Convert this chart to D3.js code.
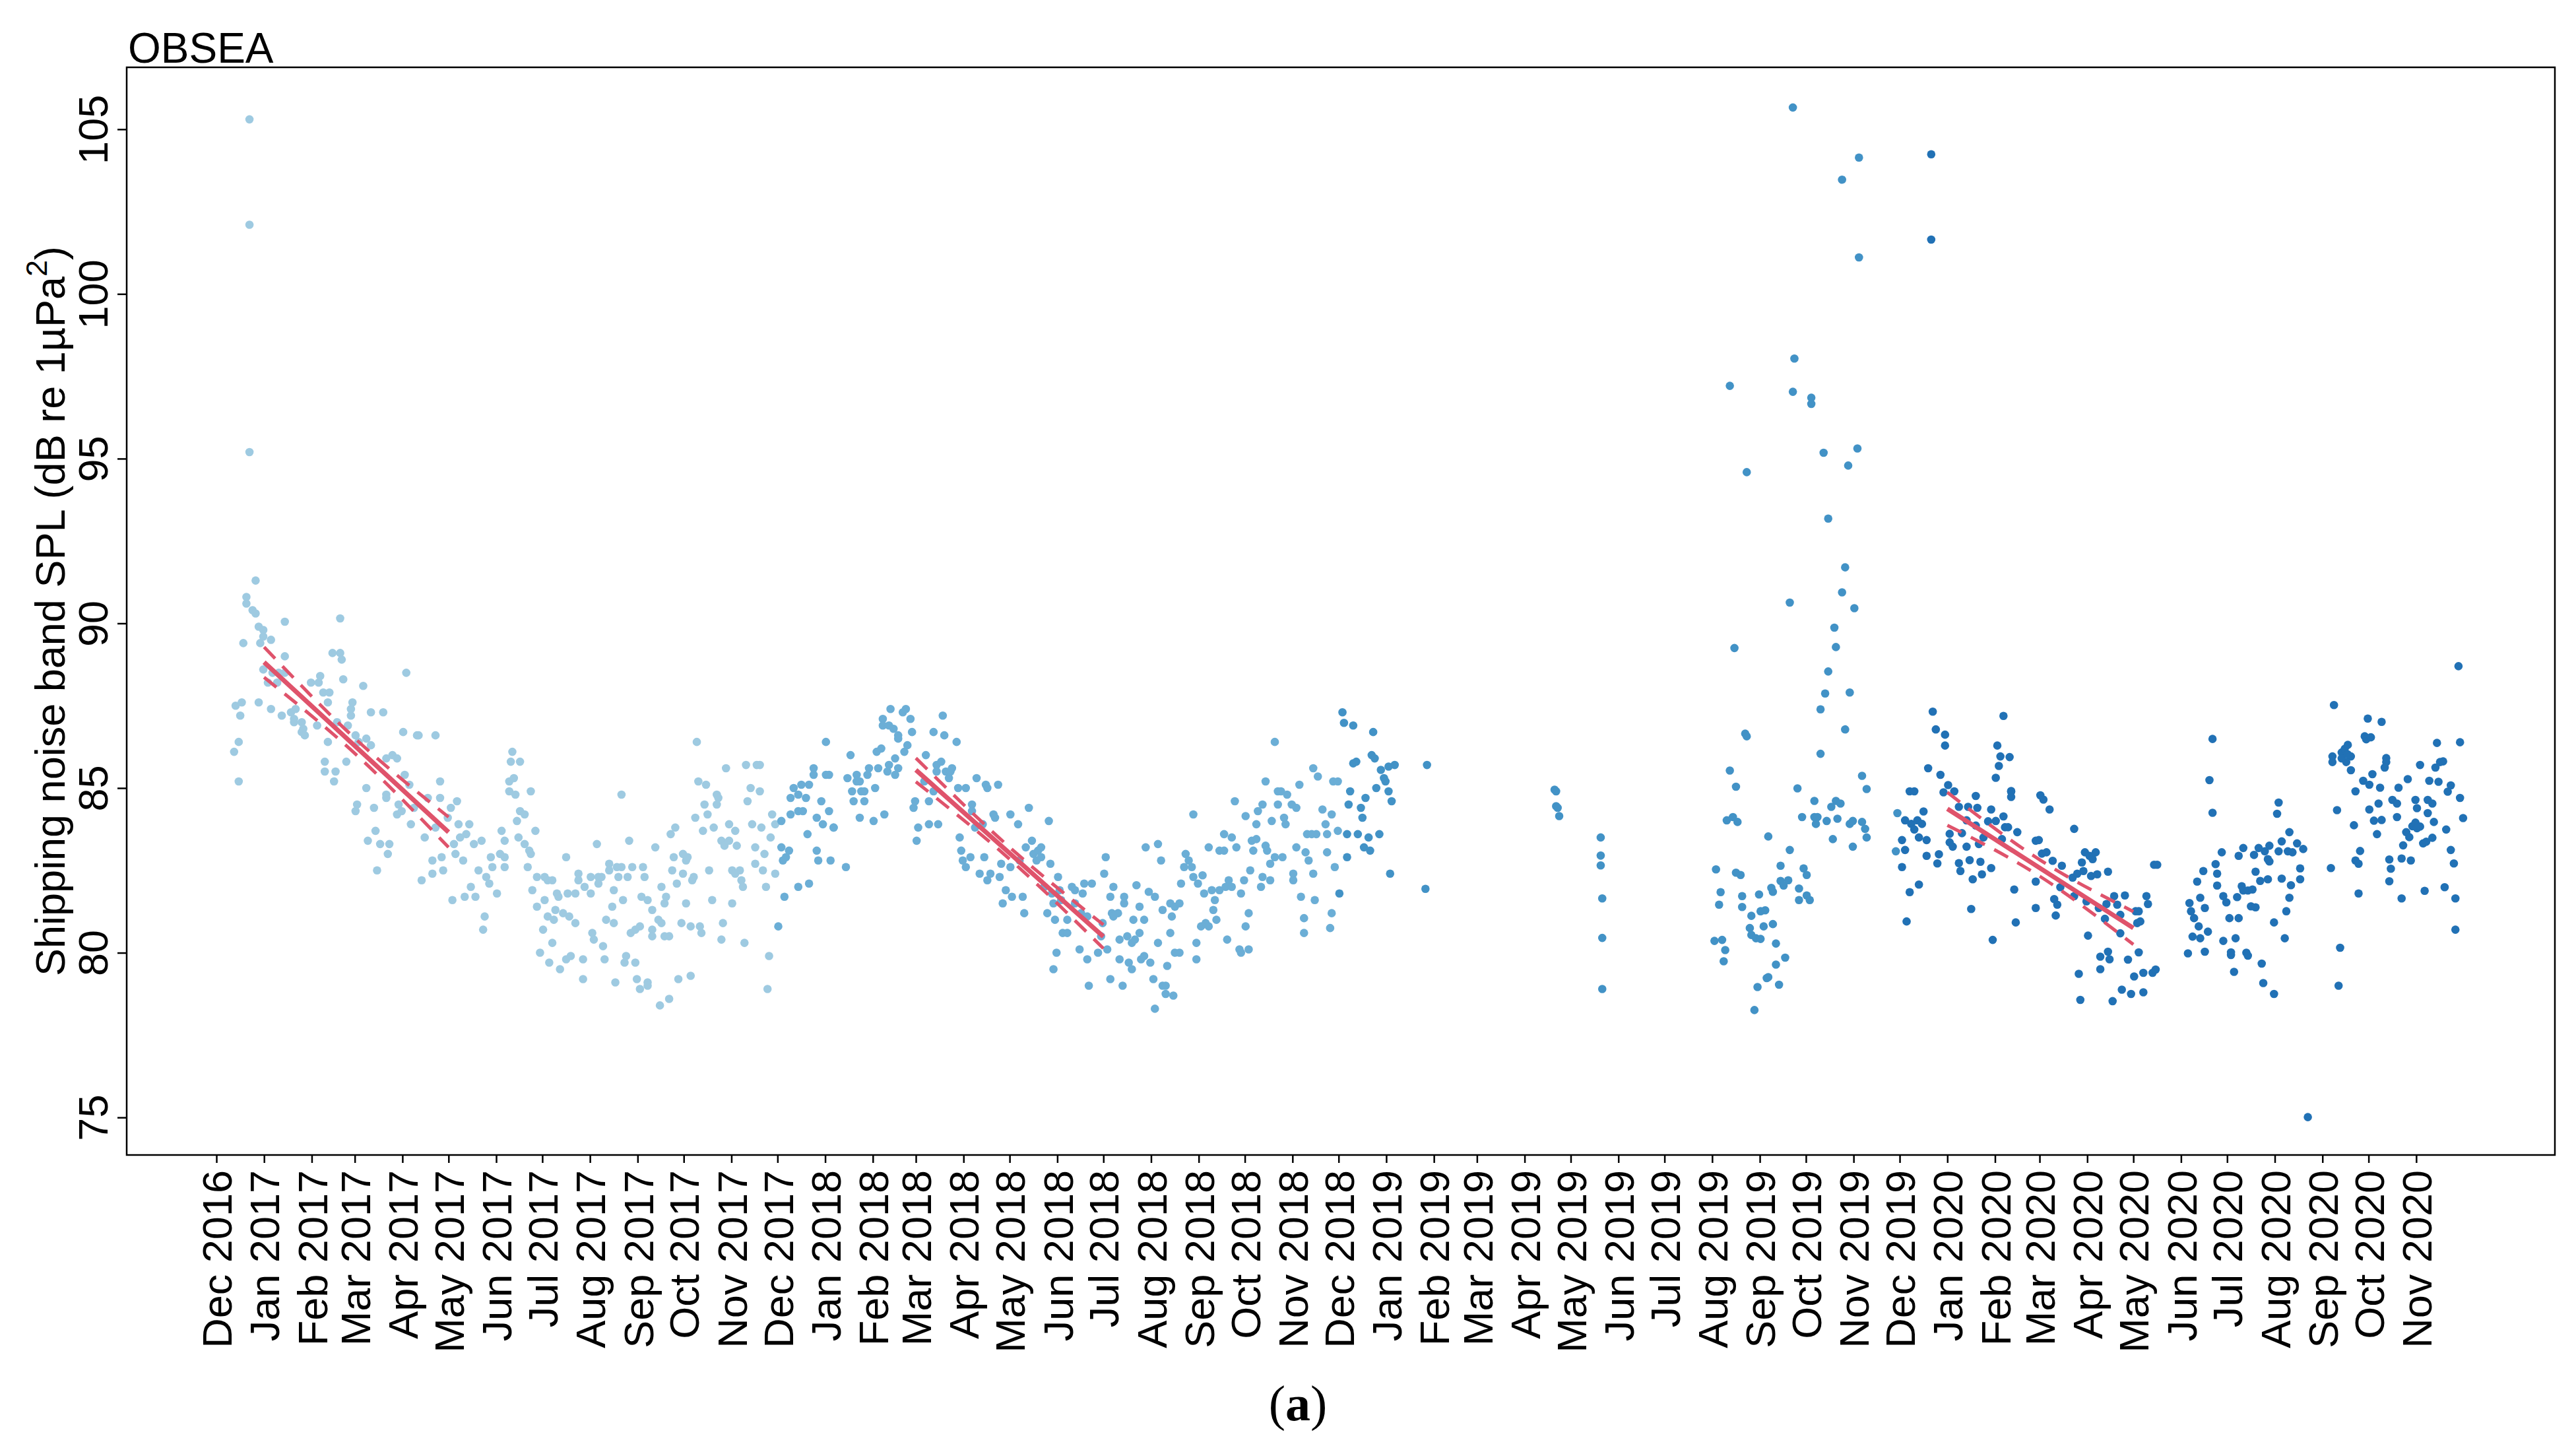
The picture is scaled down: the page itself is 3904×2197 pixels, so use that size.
<!DOCTYPE html>
<html>
<head>
<meta charset="utf-8">
<script src="https://cdn.jsdelivr.net/npm/d3@7"></script>
<style>
    body { margin: 0; background: #fff; }
    text { font-family: "Liberation Sans", Arial, sans-serif; fill: #000; }
</style>
</head>
<body>
<div id="chart"></div>
<script>
// each season runs Dec-Nov; points are [day since season start, SPL dB]
const seasonStarts = ["2016-12-01", "2017-12-01", "2018-12-01", "2019-12-01"]
const seasonColors = ["#9ecae1", "#6baed6", "#4292c6", "#2171b5"]

const spl2017 = [
    [11,86.1],[12,87.5],[14,86.4],[14,85.2],[15,87.2],[16,87.6],[17,89.4],[19,90.8],[19,90.6],[21,105.3],[21,102.1],[21,95.2],
    [23,90.4],[25,90.3],[25,91.3],[27,89.9],[27,87.6],[28,89.4],[30,89.6],[30,89.8],[30,88.6],[33,88.2],[35,87.4],[35,89.5],
    [36,88.5],[39,88.2],[40,88.5],[42,87.2],[44,88.5],[44,90.05],[44,89.0],[48,87.3],[50,87.0],[50,87.1],[51,87.4],[55,86.7],
    [55,87.0],[56,86.8],[57,86.6],[61,88.2],[65,86.9],[66,88.2],[67,88.4],[69,87.9],[70,85.5],[70,85.8],[72,87.6],[72,86.4],
    [73,87.9],[75,89.1],[76,85.2],[77,85.5],[78,87.0],[80,89.1],[80,90.15],[81,88.9],[82,88.3],[84,85.8],[85,86.9],[87,87.4],
    [87,87.2],[88,87.6],[90,86.6],[90,84.3],[91,84.5],[92,86.4],[95,88.1],[97,86.5],[97,85.0],[98,83.4],[100,86.3],[100,87.3],
    [102,84.4],[103,83.7],[104,82.5],[106,83.3],[108,87.3],[110,85.9],[110,84.7],[110,84.8],[111,83.0],[112,83.3],[114,86.0],
    [117,84.2],[117,85.9],[118,84.5],[120,84.3],[121,86.7],[122,85.4],[123,88.5],[125,85.1],[126,83.9],[128,84.4],[130,86.6],
    [131,86.6],[133,82.2],[135,83.5],[137,84.7],[140,82.8],[140,82.4],[142,83.8],[142,86.6],[145,84.7],[145,85.2],[146,82.9],
    [147,82.5],[150,84.1],[152,84.4],[153,81.6],[154,83.3],[155,83.0],[156,84.6],[157,83.9],[158,83.5],[160,82.8],[161,81.7],
    [162,83.6],[164,83.9],[165,82.0],[167,83.3],[168,81.7],[170,82.5],[172,83.4],[173,80.7],[174,81.1],[175,82.3],[177,82.1],
    [178,82.9],[179,82.6],[182,81.8],[184,83.0],[185,83.7],[187,82.9],[187,82.6],[187,83.4],[190,85.2],[190,84.9],[191,85.8],
    [192,86.1],[193,85.3],[194,84.8],[195,84.0],[196,83.5],[197,85.8],[197,84.3],
    [200,84.2],[200,83.3],[202,82.6],[203,83.1],[204,84.9],[204,83.0],[205,81.9],[207,83.7],[208,82.3],[208,81.4],[210,80.0],
    [212,80.7],[213,82.3],[213,81.6],[215,82.2],[215,81.1],[216,79.7],[218,80.3],[218,82.2],[219,81.0],[220,81.3],[221,81.8],
    [222,81.7],[223,79.5],[225,81.2],[227,79.8],[227,82.9],[228,81.8],[229,81.1],[230,79.9],[233,81.8],[233,80.9],[235,82.2],
    [235,82.4],[238,79.8],[238,79.2],[239,82.0],[243,81.8],[243,82.3],[244,80.6],[245,80.4],[247,83.3],[248,82.3],[248,82.1],
    [250,82.3],[251,80.2],[252,79.8],[253,81.0],[255,82.7],[255,82.5],[257,81.4],[258,81.9],[258,80.9],[259,79.1],[260,82.6],
    [261,82.3],[263,82.6],[263,84.8],[264,81.6],[265,79.7],[266,79.9],[267,82.3],[268,83.4],[269,80.6],[270,82.6],[272,80.7],
    [272,79.7],[273,79.2],[275,80.8],[275,78.9],[276,81.7],[277,82.6],[278,82.3],[280,79.1],[280,79.0],[280,81.6],[283,81.3],
    [283,80.7],[283,80.5],[285,83.2],[287,81.0],[288,78.4],[289,80.9],[289,82.0],[291,81.5],[291,80.5],[292,81.7],[294,80.5],
    [294,78.6],[295,83.6],[296,82.5],[297,82.9],[298,83.8],[299,82.1],[300,79.2],[302,80.9],[303,83.0],[303,82.4],[305,81.5],
    [305,82.8],[306,82.9],[308,80.8],[308,79.3],[309,82.2],[310,82.3],[311,84.1],[312,86.4],[313,85.2],[314,80.8],[315,80.6],
    [316,83.7],[317,84.5],[318,85.1],[319,84.2],[320,82.5],[322,81.6],[323,83.8],[325,84.8],[325,84.5],[326,84.7],[328,83.4],
    [328,80.4],[329,80.9],[330,83.25],[331,85.6],[333,83.9],[333,83.4],[335,82.5],[335,81.5],[337,83.7],[337,82.4],[338,83.25],
    [340,82.5],[341,82.2],[342,82.0],[343,80.3],[344,85.7],[345,84.6],[347,85.0],[348,83.9],[350,82.7],[350,83.2],[351,85.7],
    [353,85.7],[353,84.9],[354,83.8],[355,82.5],[356,83.0],[357,82.0],[358,78.9],[359,79.9],[360,83.5],[361,84.2],[363,83.9],
    [363,82.4]
]

const spl2018 = [
    [0,80.8],[2,84.0],[2,83.2],[3,82.8],[4,81.7],[5,82.9],[7,83.1],[8,84.7],[8,84.2],[10,85.0],[13,84.8],[13,84.3],[13,82.0],
    [15,85.1],[16,84.3],[18,84.7],[19,83.6],[20,82.1],[20,85.1],[23,85.6],[23,85.4],[25,84.1],[25,83.1],[26,82.8],[28,84.6],
    [29,83.9],[31,86.4],[31,85.4],[33,85.4],[33,84.3],[34,82.8],[36,83.8],[36,83.8],[44,82.6],[45,85.3],[47,86.0],[48,84.9],
    [49,84.6],[51,85.4],[51,85.2],[53,85.2],[53,84.1],[54,84.9],[56,84.6],[56,84.9],[58,85.4],[59,85.6],[62,84.0],[63,85.0],
    [64,86.1],[65,85.6],[67,86.2],[68,87.1],[68,86.9],[69,84.2],[71,85.5],[72,85.7],[72,86.9],[73,87.4],[75,86.8],[76,85.9],
    [76,85.4],[78,86.6],[78,86.5],[78,85.6],[81,87.3],[82,86.1],[83,87.4],[84,86.3],[86,87.1],[87,86.7],[88,84.4],[89,84.6],
    [90,83.4],[91,83.8],[95,85.2],[96,86.0],[98,83.9],[98,84.6],[101,84.9],[101,86.7],[103,85.7],[103,85.5],[104,83.9],
    [106,85.8],[107,87.2],[108,86.6],[109,85.5],[111,85.3],[112,85.5],[113,85.6],[116,86.4],[117,85.0],[118,83.5],[119,83.1],
    [120,82.8],[122,85.0],[122,82.6],[125,82.9],[126,84.5],[126,84.3],[128,83.8],[129,85.3],[131,82.4],[133,83.9],[134,82.9],
    [135,85.1],[136,85.0],[136,82.2],[138,82.4],[140,84.2],[141,84.1],[143,85.1],[144,82.3],[145,82.7],[146,81.5],[148,81.9],
    [151,84.2],[151,82.6],[152,81.7],[156,83.9],[157,82.8],[159,81.7],[160,81.2],[161,83.2],[163,84.4],[165,83.4],[166,83.0],
    [168,82.8],[169,83.1],[171,82.9],[171,83.2],[173,82.0],[175,81.2],[176,84.0],[177,82.7],[178,81.8],[179,81.5],[179,79.5],
    [180,81.0],[181,80.0],[182,82.3],[183,81.9],[184,81.6],[185,80.6],[188,81.0],[188,80.6],[191,82.0],[193,81.9],[193,81.5],
    [196,80.1],[197,81.2],[198,81.8],[199,82.1],[201,81.1],[201,79.8],[202,79.0],[204,82.1],[208,80.0],[210,80.5],[211,80.9],
    [212,82.4],[213,82.9],[214,80.1],[216,79.2],[216,81.7],[217,81.2],[218,82.0],
    [218,81.1],[221,81.2],[222,80.4],[222,79.8],[224,79.0],[225,81.7],[225,81.5],[227,80.5],[228,79.7],[230,80.3],[230,79.5],
    [231,81.0],[232,80.4],[233,82.05],[235,81.4],[235,80.6],[236,79.8],[238,81.0],[238,79.9],[239,83.2],[241,81.85],[242,79.7],
    [244,79.2],[245,78.3],[245,81.7],[247,80.3],[247,83.3],[249,82.8],[250,81.3],[250,79.0],[252,78.75],[252,79.0],[253,79.6],
    [255,81.5],[255,80.6],[256,81.1],[257,78.7],[258,81.4],[258,80.0],[261,81.5],[261,80.0],[262,82.1],[264,82.6],[265,83.0],
    [267,82.8],[269,82.6],[270,84.2],[270,82.3],[272,79.8],[272,80.3],[273,82.1],[275,80.8],[276,82.35],[277,81.8],[278,80.9],
    [280,83.2],[280,80.8],[282,81.9],[283,81.3],[284,81.6],[285,81.0],[287,81.9],[287,83.1],[290,83.6],[290,83.1],[291,82.0],
    [292,80.4],[293,82.2],[295,83.5],[295,82.0],[297,84.6],[298,83.2],[300,80.1],[301,80.0],[301,81.8],[303,82.2],[304,84.15],
    [304,80.8],[306,81.2],[306,80.1],[307,82.5],[308,83.4],[309,83.1],[311,83.9],[311,83.45],[312,84.3],[314,82.0],[315,82.3],
    [315,84.5],[317,85.2],[317,83.25],[318,83.1],[320,82.7],[320,82.2],[321,84.0],[323,82.9],[323,86.4],[325,84.5],[325,84.9],
    [327,84.9],[328,82.9],[329,84.1],[330,83.9],[331,84.8],[334,84.5],[335,82.4],[335,82.2],[337,83.2],[337,84.4],[339,85.1],
    [340,81.7],[342,81.05],[342,80.6],[343,83.05],[344,83.6],[345,82.8],[347,83.6],[348,85.6],[348,82.4],[349,81.6],[350,83.6],
    [351,85.35],[354,84.35],[356,83.9],[357,83.6],[357,83.05],[359,80.75],[360,81.2],[360,84.2],[361,85.2],[362,82.6],[364,83.7],
    [364,85.2]
]

const spl2019 = [
    [0,81.8],[2,87.3],[3,86.98],[5,83.6],[5,82.9],[6,84.5],[7,84.9],[9,85.75],[9,86.9],[11,85.8],[12,83.6],[14,84.4],[15,84.1],
    [16,83.2],[17,84.7],[19,83.5],[20,83.1],[21,86.0],[22,86.7],[23,85.9],[24,85.0],[26,83.6],[27,85.55],[29,85.3],[30,85.2],
    [32,85.65],[32,84.9],[33,82.4],[34,84.6],[36,85.7],[56,81.94],[57,85.7],
    [140,84.95],[141,84.9],[141,84.45],[142,84.4],[143,84.15],[170,83.5],[170,82.95],[170,82.65],[171,81.65],[171,80.45],[171,78.9],
    [244,80.36],[245,82.53],[247,81.46],[248,81.84],[249,80.39],[250,79.74],[251,80.08],[252,84.02],[254,85.53],[254,97.21],
    [256,84.12],[257,89.25],[258,85.04],[258,82.43],[259,83.97],[261,82.36],[262,81.72],[262,81.39],[264,86.65],[265,94.59],
    [265,86.57],[267,80.75],[268,80.54],[268,81.12],[270,78.26],[271,80.44],[272,78.96],[273,81.77],[274,80.42],[274,81.26],
    [276,80.8],[277,81.29],[278,79.23],[279,79.26],[279,83.53],[281,81.97],[282,81.85],[282,80.87],[284,80.28],[284,79.64],
    [286,79.03],[287,82.64],[287,82.18],[289,82.04],[290,79.85],[292,82.2],[293,90.63],[293,83.12],[295,97.03],[295,105.66],
    [296,98.04],[298,84.99],[299,81.95],[299,81.6],[301,84.12],[302,82.56],[304,81.74],[304,82.36],[306,81.6],[307,96.85],
    [307,96.66],[309,84.61],[309,84.12],[310,83.91],[311,84.12],[313,87.39],[313,86.04],[315,95.18],[316,87.87],[317,84.0],
    [318,93.18],[318,88.54],[320,84.43],[321,83.45],[322,89.87],[323,89.28],[323,84.61],[324,84.07],[326,84.53],[327,103.47],
    [327,90.94],[329,91.7],[329,86.78],[331,94.79],[332,83.91],[332,87.9],[334,84.0],[334,83.22],[335,90.46],[337,95.31],
    [338,104.14],[338,101.11],[340,85.37],[340,83.97],[342,83.76],[343,83.5],[343,84.97],[362,83.08],[363,84.24]
]

const spl2020 = [
    [1,82.6],[1,83.42],[3,84.02],[3,83.12],[4,80.95],[6,81.84],[6,84.9],[7,83.91],[9,84.9],[9,83.74],[11,84.02],[12,82.07],
    [12,83.5],[14,83.91],[15,84.29],[17,82.94],[17,83.42],[18,85.6],[20,104.24],[20,101.65],[21,87.32],[23,86.78],[24,82.71],
    [25,82.99],[26,85.4],[28,84.87],[29,86.62],[29,86.29],[31,85.09],[32,83.61],[32,83.35],[34,83.22],[35,84.9],[38,84.43],
    [38,82.72],[39,82.48],[40,83.63],[43,84.02],[43,83.22],[44,84.43],[45,82.81],[46,81.33],[47,82.23],[49,83.86],[49,84.76],
    [50,84.4],[51,83.3],[52,82.76],[53,82.38],[54,83.5],[57,83.99],[59,84.35],[59,82.57],[60,80.39],[62,85.31],[62,84.0],
    [63,86.29],[64,85.67],[65,85.96],[66,83.45],[67,87.19],[67,84.14],[68,83.81],
    [70,83.81],[71,85.94],[72,84.89],[72,84.91],[72,84.73],[74,81.92],[75,80.92],[76,83.66],[88,83.4],[90,83.42],[91,84.78],
    [93,84.65],[97,84.35],[88,82.16],[88,81.36],[92,83.01],[95,83.05],[99,82.79],[105,82.64],[100,81.63],[102,81.46],[101,81.13],
    [112,82.28],[113,83.76],[104,81.99],[113,81.72],[115,82.4],[118,82.74],[119,82.48],[120,83.05],[123,82.94],[127,83.05],
    [125,82.84],[124,82.33],[128,82.38],[135,82.46],[121,81.56],[129,81.36],[133,81.03],[143,81.15],[139,81.72],[146,81.74],
    [141,81.46],[134,81.48],[122,80.52],[116,79.36],[117,78.57],[130,79.88],[135,80.03],[136,79.8],[130,79.5],[138,78.53],
    [143,80.59],[148,79.79],[144,78.88],[150,78.75],[152,79.28],[155,80.01],[154,80.9],[156,80.95],[153,81.26],[155,81.26],
    [160,81.72],[161,81.48],[158,79.39],[158,78.8],[164,79.39],[166,79.49],[165,82.67],[167,82.67],
    [188,81.51],[189,81.26],[191,81.05],[187,79.98],[190,80.49],[195,80.44],[194,80.8],[193,82.16],[197,82.48],[195,81.67],
    [198,81.36],[198,80.03],[200,80.64],[203,86.49],[201,85.24],[203,84.25],[205,82.69],[206,82.4],[209,83.05],[206,82.04],
    [210,80.36],[210,81.72],[212,81.53],[214,81.05],[220,81.05],[215,79.93],[215,80.01],[217,79.42],[218,80.44],[219,81.69],
    [220,82.94],[223,83.18],[222,82.02],[223,81.89],[226,81.89],[229,81.92],[228,81.41],[231,81.38],[225,80.0],[226,79.91],
    [230,82.97],[231,82.46],[233,83.18],[237,83.08],[240,83.25],[234,82.18],[239,82.23],[239,82.84],[240,82.77],[235,79.67],
    [236,79.08],[243,78.75],[243,80.92],[246,84.56],[245,84.22],[248,83.38],[246,83.08],[248,82.25],[251,81.26],[250,80.44],
    [253,83.66],[253,81.67],[254,82.05],[252,83.08],[255,83.05],[258,83.32],[262,83.15],[260,82.56],[260,82.23],
    [265,75.01],[280,82.57],[282,87.52],[284,84.33],[286,80.15],[285,79.0],[281,85.96],[281,85.79],[287,86.08],[289,86.19],
    [291,86.31],[293,85.96],[290,85.79],[293,85.54],[287,85.9],[291,86.02],[295,83.87],[296,84.9],[296,82.8],[298,82.7],
    [298,81.8],[299,83.09],[301,85.22],[305,85.1],[302,86.57],[303,86.48],[306,86.54],[304,87.11],[305,84.35],[307,85.42],
    [308,84.01],[313,84.03],[310,83.6],[311,84.53],[312,85.01],[313,87.01],[316,85.91],[316,85.79],[315,85.62],[318,82.83],
    [318,82.17],[319,82.55],[320,84.64],[323,84.53],[323,84.12],[324,85.01],[326,81.65],[326,82.86],[327,83.26],[329,83.66],
    [331,83.51],[330,85.27],[332,82.8],[333,83.84],[335,83.95],[336,83.78],[335,84.64],[336,84.39],[338,85.7],[338,83.83],
    [340,83.32],[342,83.37],[341,81.88],[343,84.24],[343,84.64],[346,84.53],[344,85.22],[350,85.19],[346,83.49],[347,83.97],
    [348,85.62],[351,85.79],[353,85.81],[349,86.37],[354,81.99],[355,83.74],[356,84.89],[358,85.08],[358,83.12],[360,82.71],
    [361,81.65],[361,80.7],[363,88.7],[364,86.39],[364,84.7],[366,84.09]
]

const seasons = [spl2017, spl2018, spl2019, spl2020]

// linear trends with their confidence band half widths (dB)
const trendStarts = ["2017-01-01", "2018-03-01", "2020-01-01"]
const trendEnds = ["2017-05-01", "2018-07-01", "2020-05-01"]
const trendFrom = [88.82, 85.55, 84.37]
const trendTo = [83.66, 80.49, 80.75]
const ciEnd = [0.46, 0.36, 0.5]
const ciMid = [0.23, 0.18, 0.25]

const yTicks = [75, 80, 85, 90, 95, 100, 105]
const firstTickMonth = "2016-12-01"
const lastTickMonth = "2020-11-01"
const xDomain = ["2016-10-03T15:00", "2021-01-30T05:00"]
const yDomain = [73.86, 106.88]

;(function () {
    const width = 3904, height = 2197
    const margin = {top: 102, right: 32, bottom: 447, left: 192}
    const parseDay = d3.utcParse("%Y-%m-%d")
    const parseHour = d3.utcParse("%Y-%m-%dT%H:%M")
    const red = "#df536b"

    const svg = d3.select("#chart")
        .append("svg")
        .attr("width", width)
        .attr("height", height)
    svg.append("rect").attr("width", width).attr("height", height).attr("fill", "#fff")

    const x = d3.scaleUtc()
        .domain(xDomain.map(parseHour))
        .range([margin.left, width - margin.right])
    const y = d3.scaleLinear()
        .domain(yDomain)
        .range([height - margin.bottom, margin.top])

    // y axis, labels turned like R's las=0
    svg.append("g")
        .attr("transform", "translate(" + margin.left + ",0)")
        .call(d3.axisLeft(y).tickValues(yTicks).tickSize(14).tickSizeOuter(0))
        .call(g => g.select(".domain").remove())
        .call(g => g.selectAll("line").attr("stroke", "#000").attr("stroke-width", 2.5))
        .call(g => g.selectAll("text")
            .attr("x", null).attr("dy", null)
            .attr("font-size", 63)
            .attr("text-anchor", "middle")
            .attr("transform", "translate(-29,0) rotate(-90)"))

    const months = d3.utcMonth.range(parseDay(firstTickMonth), d3.utcDay.offset(parseDay(lastTickMonth), 1))
    svg.append("g")
        .attr("transform", "translate(0," + (height - margin.bottom) + ")")
        .call(d3.axisBottom(x).tickValues(months).tickFormat(d3.utcFormat("%b %Y")).tickSize(12).tickSizeOuter(0))
        .call(g => g.select(".domain").remove())
        .call(g => g.selectAll("line").attr("stroke", "#000").attr("stroke-width", 2.5))
        .call(g => g.selectAll("text")
            .attr("y", null).attr("dy", "0.36em")
            .attr("font-size", 63)
            .attr("text-anchor", "end")
            .attr("transform", "translate(0,23) rotate(-90)"))

    // points, one colour per season
    seasons.forEach(function (points, i) {
        const start = parseDay(seasonStarts[i])
        svg.append("g")
            .selectAll("circle")
            .data(points)
            .join("circle")
            .attr("cx", d => x(d3.utcHour.offset(d3.utcDay.offset(start, d[0]), 12)))
            .attr("cy", d => y(d[1]))
            .attr("r", 6.3)
            .attr("fill", seasonColors[i])
    })

    // trend lines and dashed confidence bands
    const band = d3.line().x(d => x(d[0])).y(d => y(d[1])).curve(d3.curveNatural)
    trendStarts.forEach(function (s, i) {
        const t0 = parseDay(s), t1 = parseDay(trendEnds[i])
        const tm = new Date((+t0 + +t1) / 2)
        const vm = (trendFrom[i] + trendTo[i]) / 2
        ;[1, -1].forEach(function (sign) {
            svg.append("path")
                .datum([[t0, trendFrom[i] + sign * ciEnd[i]], [tm, vm + sign * ciMid[i]], [t1, trendTo[i] + sign * ciEnd[i]]])
                .attr("fill", "none")
                .attr("stroke", red)
                .attr("stroke-width", 5)
                .attr("stroke-dasharray", "24,16")
                .attr("d", band)
        })
        svg.append("path")
            .datum([[t0, trendFrom[i]], [t1, trendTo[i]]])
            .attr("fill", "none")
            .attr("stroke", red)
            .attr("stroke-width", 7)
            .attr("d", d3.line().x(d => x(d[0])).y(d => y(d[1])))
    })

    // plot frame
    svg.append("rect")
        .attr("x", margin.left)
        .attr("y", margin.top)
        .attr("width", width - margin.left - margin.right)
        .attr("height", height - margin.top - margin.bottom)
        .attr("fill", "none")
        .attr("stroke", "#000")
        .attr("stroke-width", 2.5)

    svg.append("text")
        .attr("x", 194)
        .attr("y", 95)
        .attr("font-size", 64)
        .text("OBSEA")

    const yLabel = svg.append("text")
        .attr("transform", "translate(98," + ((margin.top + height - margin.bottom) / 2) + ") rotate(-90)")
        .attr("text-anchor", "middle")
        .attr("font-size", 63)
    yLabel.append("tspan").text("Shipping noise band SPL (dB re 1\u00b5Pa")
    yLabel.append("tspan").attr("font-size", 45).attr("dy", -27).text("2")
    yLabel.append("tspan").attr("dy", 27).text(")")

    const caption = svg.append("text")
        .attr("x", 1967)
        .attr("y", 2152)
        .attr("text-anchor", "middle")
        .attr("font-size", 76)
        .style("font-family", "'Liberation Serif', 'Times New Roman', serif")
    caption.append("tspan").text("(")
    caption.append("tspan").attr("font-weight", "bold").text("a")
    caption.append("tspan").text(")")
})()
</script>
</body>
</html>
